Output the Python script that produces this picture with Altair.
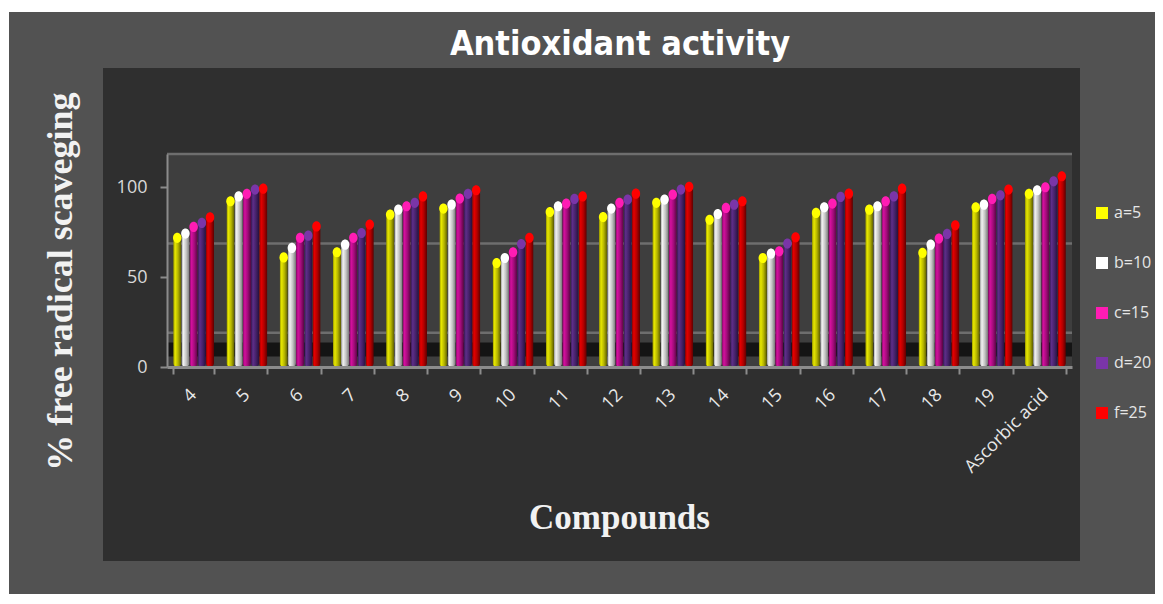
import altair as alt
import pandas as pd

compounds = ["4", "5", "6", "7", "8", "9", "10", "11", "12", "13", "14", "15",
             "16", "17", "18", "19", "Ascorbic acid"]
series = ["a=5", "b=10", "c=15", "d=20", "f=25"]

a5  = [71.9, 92.3, 61.0, 63.9, 84.8, 88.2, 57.9, 86.3, 83.5, 91.4, 82.0, 60.7, 85.8, 87.6, 63.5, 88.9, 96.4]
b10 = [74.3, 95.0, 66.3, 68.1, 87.6, 90.4, 60.7, 89.5, 88.2, 93.2, 85.2, 63.1, 88.9, 89.5, 68.1, 90.4, 98.4]
c15 = [78.0, 96.4, 71.9, 71.9, 89.5, 93.8, 63.9, 91.0, 91.4, 96.0, 88.6, 64.4, 91.0, 92.3, 71.5, 93.6, 100.1]
d20 = [80.2, 98.8, 73.1, 74.6, 91.4, 96.4, 68.5, 93.6, 93.2, 98.8, 90.4, 68.7, 94.7, 95.0, 74.1, 95.6, 103.4]
f25 = [83.3, 99.3, 78.3, 79.3, 95.0, 98.4, 71.9, 95.0, 96.5, 100.3, 92.3, 72.2, 96.5, 99.3, 78.9, 98.8, 106.2]

# 3-D chart decoration (back wall gridlines and floor, in front-axis units)
wall_grid = [19.1, 68.7, 118.6]
floor_band = [5.8, 13.6]

cap_colors = ["#ffff00", "#ffffff", "#ff1cb4", "#7a35a8", "#ff0000"]
body_stops = [
    ["#8f8f00", "#e8e800", "#b4b400", "#5a5a00"],
    ["#9a9a9a", "#f2f2f2", "#c4c4c4", "#767676"],
    ["#7e0860", "#d4109e", "#a20c7a", "#560442"],
    ["#34184e", "#5e2e8a", "#46226a", "#26103c"],
    ["#880000", "#e40000", "#b20000", "#5a0000"],
]

rows = []
for s, vals in zip(series, [a5, b10, c15, d20, f25]):
    for c, v in zip(compounds, vals):
        rows.append({"compound": c, "series": s, "value": v})
df = pd.DataFrame(rows)

W, H = 905, 213
yscale = alt.Scale(domain=[0, 118.6], nice=False, zero=True)
xscale = alt.Scale(domain=compounds, paddingInner=0.23, paddingOuter=0.115)
oscale = alt.Scale(domain=series, paddingInner=0, paddingOuter=0)

xaxis = alt.Axis(title="Compounds", titleFont="Liberation Serif", titleFontSize=35,
                 titleFontWeight="bold", titleColor="#f2f2f2", titleX=452,
                 titleY=161, titleBaseline="alphabetic", titleAlign="center",
                 labelAngle=315, labelAlign="right", labelBaseline="middle",
                 labelFont="Open Sans", labelFontSize=18, labelColor="#e8e8e8",
                 labelPadding=18, labelOverlap=False, tickBand="extent",
                 tickSize=7, tickColor="#8c8c8c", tickWidth=2,
                 domainColor="#8c8c8c", domainWidth=3, grid=False, zindex=1)
yaxis = alt.Axis(values=[0, 50, 100], title="% free radical scaveging",
                 titleFont="Liberation Serif", titleFontSize=36, titleFontWeight="bold",
                 titleColor="#f2f2f2", titleX=-96, titleY=127, titleAngle=270,
                 titleBaseline="alphabetic", titleAlign="center",
                 labelFont="Open Sans", labelFontSize=18, labelColor="#d9d9d9",
                 labelPadding=13, tickSize=7, tickColor="#8c8c8c", tickWidth=2,
                 domainColor="#8c8c8c", domainWidth=2, grid=False, zindex=1)

X = alt.X("compound:N", sort=compounds, scale=xscale, axis=xaxis)
XO = alt.XOffset("series:N", sort=series, scale=oscale)
Y = alt.Y("value:Q", scale=yscale, axis=yaxis)

one = pd.DataFrame({"k": [0]})

outer = alt.Chart(one).mark_rect(color="#525252").encode(
    x=alt.value(-158), x2=alt.value(988), y=alt.value(-142), y2=alt.value(440))
inner = alt.Chart(one).mark_rect(color="#2f2f2f").encode(
    x=alt.value(-64), x2=alt.value(913), y=alt.value(-86), y2=alt.value(407))
wall = alt.Chart(one).mark_rect(color="#3e3e3e").encode(
    x=alt.value(0), x2=alt.value("width"), y=alt.value(0), y2=alt.value("height"))

grid = alt.Chart(pd.DataFrame({"value": wall_grid})).mark_rule(
    color="#6e6e6e", strokeWidth=2.5).encode(y=Y)

floor = alt.Chart(pd.DataFrame({"value": [floor_band[0]], "value2": [floor_band[1]]})).mark_rect(
    color="#141414").encode(y=Y, y2="value2:Q")

bar_layers = []
for s, stops in zip(series, body_stops):
    grad = alt.Gradient(
        gradient="linear",
        stops=[alt.GradientStop(color=stops[0], offset=0),
               alt.GradientStop(color=stops[1], offset=0.25),
               alt.GradientStop(color=stops[2], offset=0.6),
               alt.GradientStop(color=stops[3], offset=1)],
        x1=0, x2=1, y1=0, y2=0)
    bar_layers.append(
        alt.Chart(df).transform_filter(alt.datum.series == s).mark_bar(
            color=grad, cornerRadius=4).encode(x=X, xOffset=XO, y=Y)
    )

ellipse = "M-1,0 A1,1.2 0 1,0 1,0 A1,1.2 0 1,0 -1,0 Z"
caps = alt.Chart(df).mark_point(filled=True, shape=ellipse, size=72, opacity=1).encode(
    x=X, xOffset=XO, y=Y,
    color=alt.Color("series:N", sort=series,
                    scale=alt.Scale(domain=series, range=cap_colors),
                    legend=alt.Legend(orient="none", legendX=927, legendY=51, title=None,
                                      symbolType="square", symbolSize=144, symbolStrokeWidth=0,
                                      symbolOpacity=1, labelFont="Open Sans", labelFontSize=16,
                                      labelColor="#e6e6e6", rowPadding=34, labelOffset=4,
                                      padding=0, zindex=1)),
)

title = alt.Chart(one).mark_text(
    text="Antioxidant activity", font="Liberation Sans Narrow, DejaVu Sans Condensed, Lato",
    fontSize=34, fontWeight="bold", color="#ffffff", align="center", baseline="alphabetic").encode(
    x=alt.value(453), y=alt.value(-99))

chart = alt.layer(outer, inner, wall, grid, floor, *bar_layers, caps, title).properties(
    width=W, height=H,
    autosize=alt.AutoSizeParams(type="none"),
    padding={"left": 159, "top": 146, "right": 83, "bottom": 227},
    background="white",
).configure_view(strokeWidth=0)

chart.save("out.html", embed_options={"renderer": "svg", "actions": False})
